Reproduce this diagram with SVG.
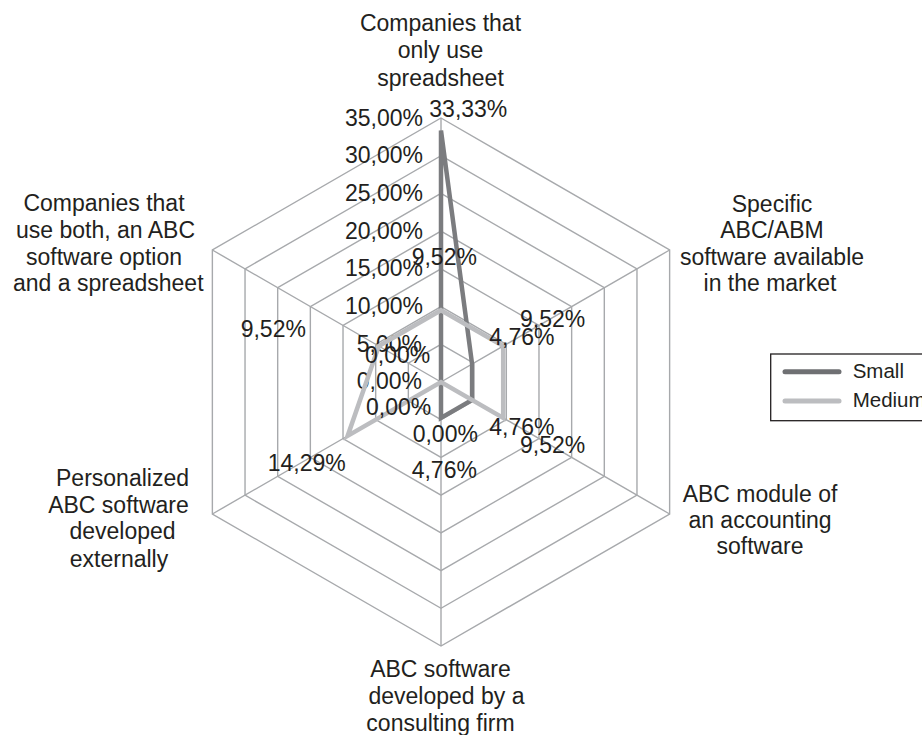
<svg xmlns="http://www.w3.org/2000/svg" width="922" height="735" viewBox="0 0 922 735">
<style>
text{font-family:"Liberation Sans",Arial,sans-serif;font-size:23px;fill:#231f20}
.grid{fill:none;stroke:#a7a9ac;stroke-width:1.4}
.tick{text-anchor:end}
.cat{text-anchor:middle}
.small{fill:none;stroke:#7b7c7f;stroke-width:4.5;stroke-linejoin:miter}
.medium{fill:none;stroke:#bcbdc0;stroke-width:4.5;stroke-linejoin:miter}
.leg{font-size:20.5px}
</style>
<rect width="922" height="735" fill="#fff"/>
<g id="grid">
<polygon class="grid" points="441,344.29 473.66,363.14 473.66,400.86 441,419.71 408.34,400.86 408.34,363.14"/>
<polygon class="grid" points="441,306.57 506.32,344.29 506.32,419.71 441,457.43 375.68,419.71 375.68,344.29"/>
<polygon class="grid" points="441,268.86 538.98,325.43 538.98,438.57 441,495.14 343.02,438.57 343.02,325.43"/>
<polygon class="grid" points="441,231.14 571.65,306.57 571.65,457.43 441,532.86 310.35,457.43 310.35,306.57"/>
<polygon class="grid" points="441,193.43 604.31,287.71 604.31,476.29 441,570.57 277.69,476.29 277.69,287.71"/>
<polygon class="grid" points="441,155.71 636.97,268.86 636.97,495.14 441,608.29 245.03,495.14 245.03,268.86"/>
<polygon class="grid" points="441,118 669.63,250 669.63,514 441,646 212.37,514 212.37,250"/>
<path class="grid" d="M441,382V118M441,382L669.63,250M441,382L669.63,514M441,382V646M441,382L212.37,514M441,382L212.37,250"/>
</g>
<g id="ticks">
<text class="tick" x="423" y="125.5">35,00%</text>
<text class="tick" x="423" y="163.2">30,00%</text>
<text class="tick" x="423" y="200.9">25,00%</text>
<text class="tick" x="423" y="238.6">20,00%</text>
<text class="tick" x="423" y="276.4">15,00%</text>
<text class="tick" x="423" y="314.1">10,00%</text>
<text class="tick" x="422" y="351.8">5,00%</text>
<text class="tick" x="422" y="388.8">0,00%</text>
</g>
<g id="series">
<polygon id="series-small" class="small" points="441,130.6 472.09,364.05 472.09,399.95 441,417.9 441,382 441,382"/>
<polygon id="series-medium" class="medium" points="441,310.19 503.19,346.1 503.19,417.9 441,382 347.65,435.9 378.81,346.1"/>
</g>
<g id="data-labels">
<text x="429.3" y="116.7">33,33%</text>
<text x="411.7" y="265">9,52%</text>
<text x="520" y="327.3">9,52%</text>
<text x="489.3" y="345">4,76%</text>
<text x="489.3" y="435">4,76%</text>
<text x="520" y="452.7">9,52%</text>
<text x="412.7" y="442.3">0,00%</text>
<text x="411.7" y="478.3">4,76%</text>
<text x="267.7" y="470.7">14,29%</text>
<text x="366" y="415">0,00%</text>
<text x="365" y="363.3">0,00%</text>
<text x="240.7" y="337.3">9,52%</text>
</g>
<g id="cat-top" class="cat">
<text class="cat" x="440.5" y="30.7">Companies that</text>
<text class="cat" x="440.5" y="58.3">only use</text>
<text class="cat" x="440.5" y="86">spreadsheet</text>
</g>
<g id="cat-upper-right">
<text class="cat" x="772" y="211.7">Specific</text>
<text class="cat" x="772" y="238.3">ABC/ABM</text>
<text class="cat" x="772" y="265">software available</text>
<text class="cat" x="770" y="290.5">in the market</text>
</g>
<g id="cat-lower-right">
<text class="cat" x="760" y="501.7">ABC module of</text>
<text class="cat" x="760" y="528.3">an accounting</text>
<text class="cat" x="760" y="553.8">software</text>
</g>
<g id="cat-bottom">
<text class="cat" x="440.5" y="676.7">ABC software</text>
<text class="cat" x="446.5" y="704.3">developed by a</text>
<text class="cat" x="440.5" y="730.5">consulting firm</text>
</g>
<g id="cat-lower-left">
<text class="cat" x="122.5" y="485.7">Personalized</text>
<text class="cat" x="118.5" y="512.7">ABC software</text>
<text class="cat" x="122.5" y="539.3">developed</text>
<text class="cat" x="119" y="566.7">externally</text>
</g>
<g id="cat-upper-left">
<text class="cat" x="104" y="210.7">Companies that</text>
<text class="cat" x="105.5" y="238">use both, an ABC</text>
<text class="cat" x="104" y="264.5">software option</text>
<text class="cat" x="108.3" y="290.5">and a spreadsheet</text>
</g>
<g id="legend">
<rect x="770.7" y="354" width="170" height="66.7" fill="#fff" stroke="#231f20" stroke-width="1.3"/>
<line x1="785" y1="371.7" x2="839" y2="371.7" stroke="#6f7073" stroke-width="5" stroke-linecap="round"/>
<line x1="785" y1="401" x2="839" y2="401" stroke="#bcbdc0" stroke-width="5" stroke-linecap="round"/>
<text class="leg" x="852.7" y="377.5">Small</text>
<text class="leg" x="852.7" y="406.5">Medium</text>
</g>
</svg>
